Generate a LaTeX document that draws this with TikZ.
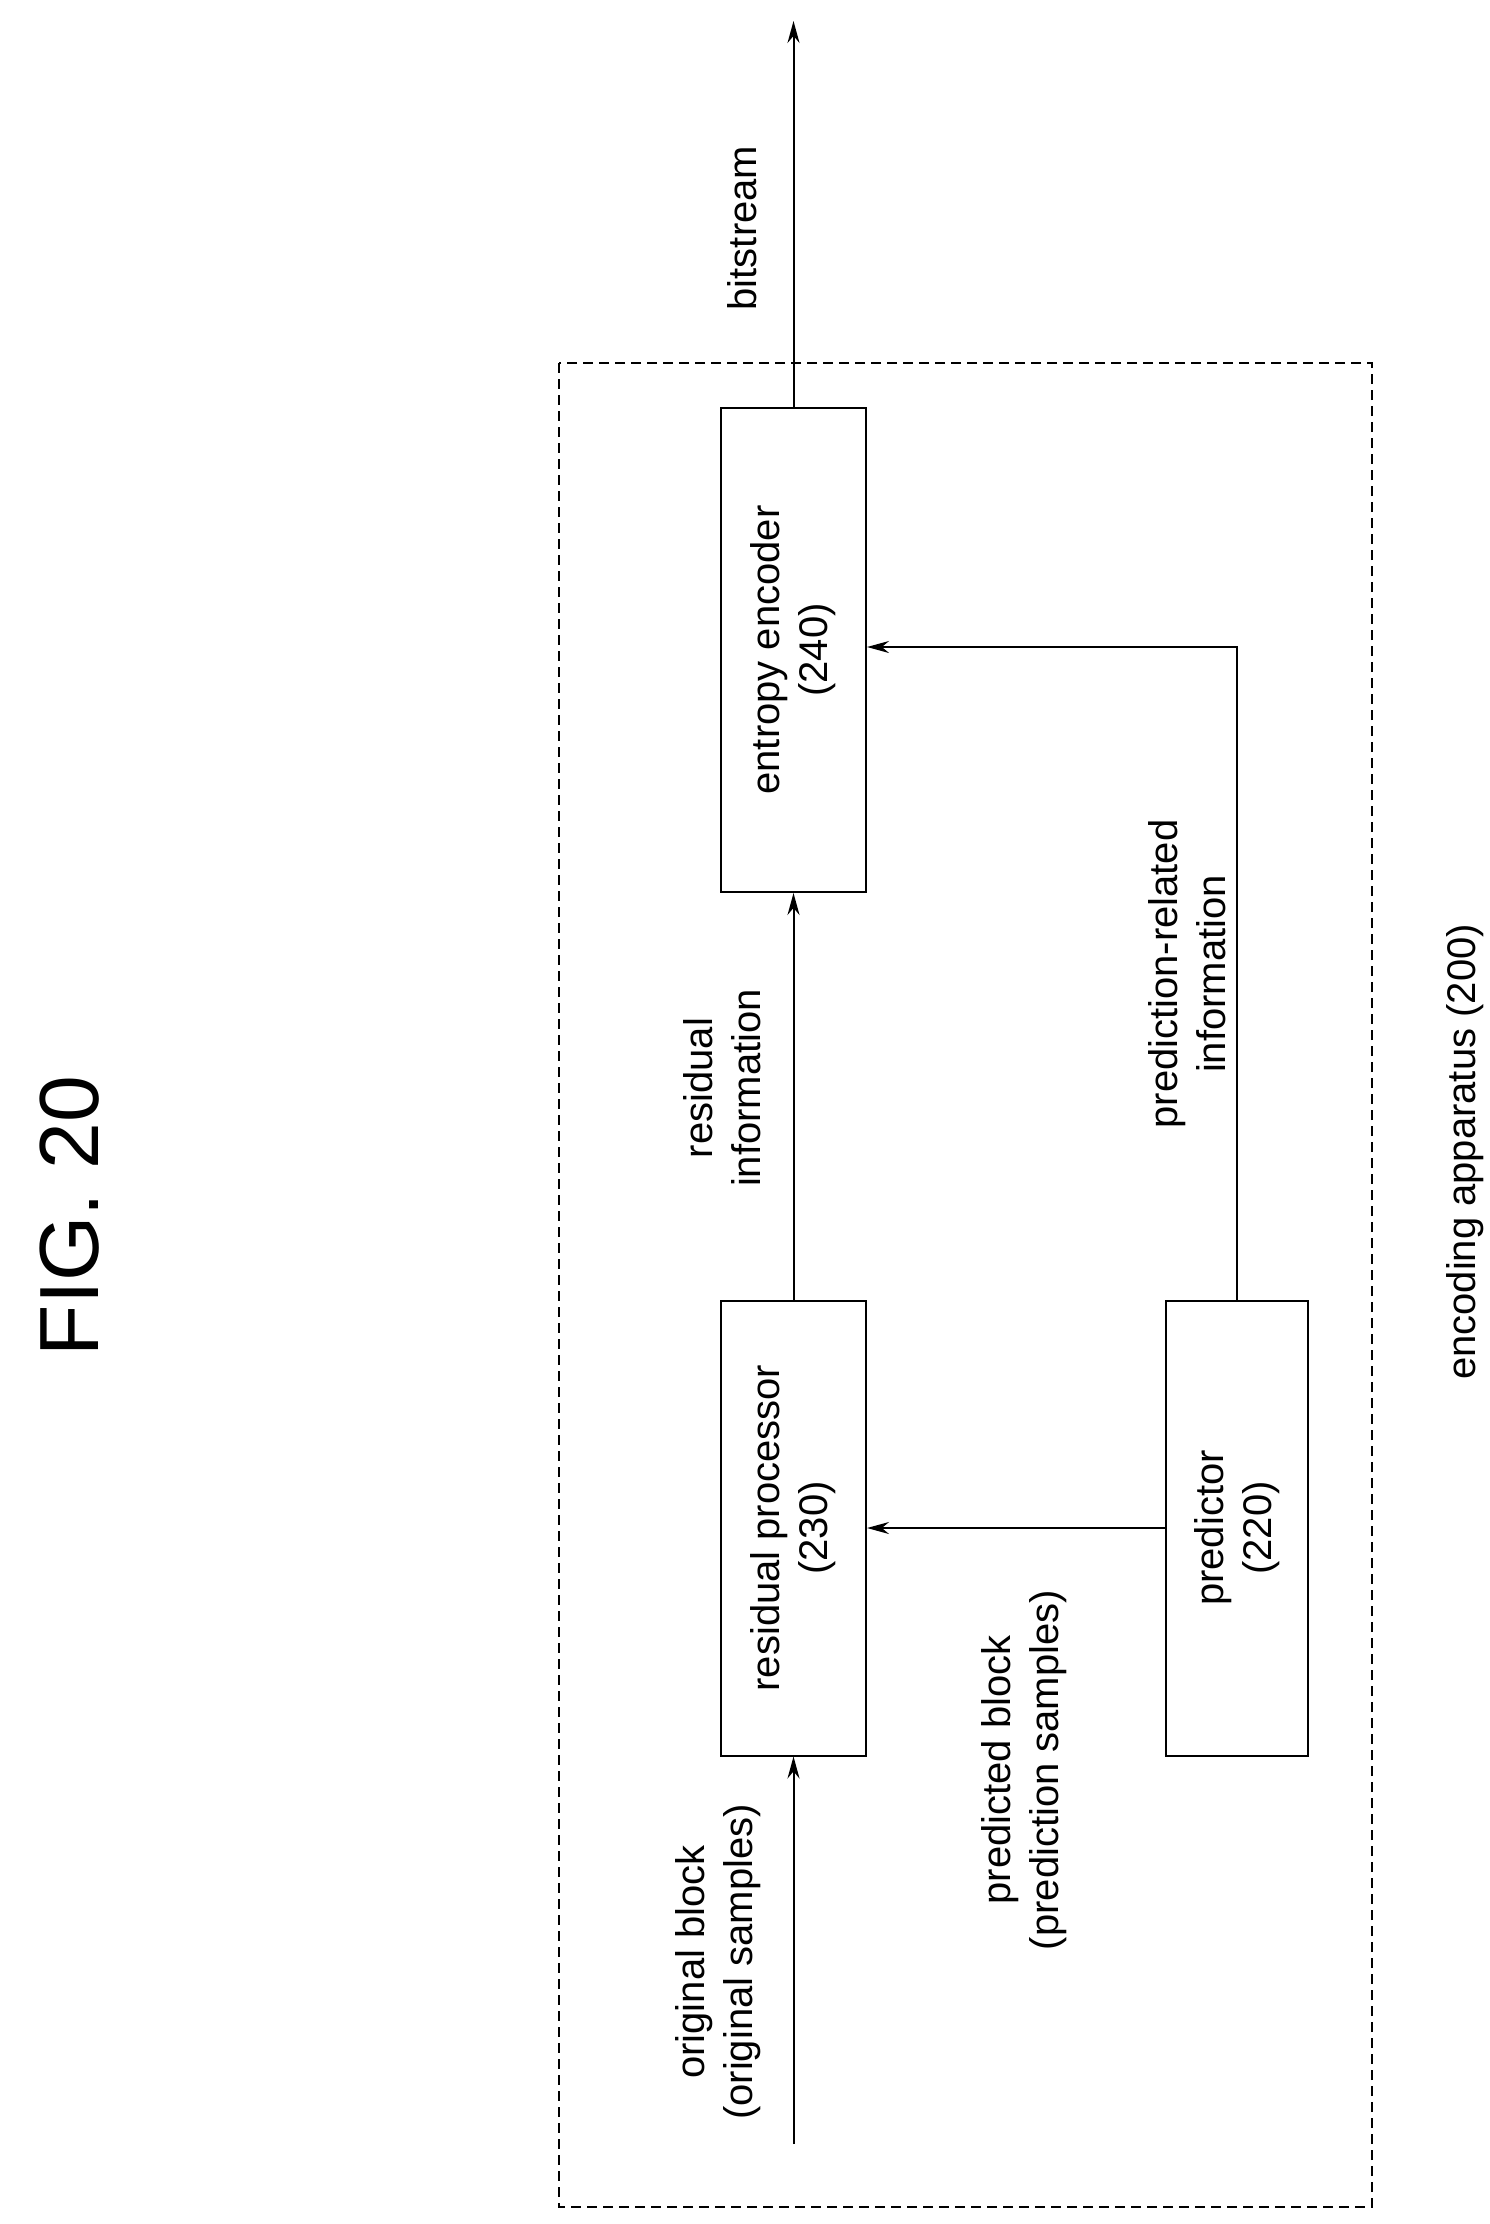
\documentclass[tikz,border=0pt]{standalone}
\usepackage{fontspec}
\setmainfont{Liberation Sans}
\usetikzlibrary{arrows.meta}
\begin{document}
\begin{tikzpicture}[x=1pt,y=-1pt,
  blk/.style={draw,line width=2pt,minimum width=455pt,minimum height=145pt,rotate=90,inner sep=0pt,align=center,font=\fontsize{40}{48}\selectfont},
  lbl/.style={rotate=90,align=center,font=\fontsize{40}{48}\selectfont},
  arr/.style={line width=2pt,-{Stealth[length=22pt,width=12pt]}}]
\useasboundingbox (0,0) rectangle (1490,2224);
\draw[dashed,line width=1.6pt,dash pattern=on 10pt off 6pt] (559,363) rectangle (1372,2207);
\node[blk,minimum width=484pt] (ent) at (793.5,650) {entropy encoder\\(240)};
\node[blk] (res) at (793.5,1528) {residual processor\\(230)};
\node[blk,minimum height=142pt] (pred) at (1237,1528) {predictor\\(220)};
\coordinate (top) at (793.5,21);
\coordinate (in) at (793.5,2144);
\coordinate (corner) at (1237,647);
\draw[arr] (ent.east) -- (top);
\draw[arr] (in) -- (res.west);
\draw[arr] (res.east) -- (ent.west);
\draw[arr] (pred.north) -- (res.south |- pred.north);
\draw[arr] (pred.east) -- (corner) -- (ent.south |- corner);
\node[lbl,font=\fontsize{84}{90}\selectfont] (fig) at (70,1216) {FIG. 20};
\node[lbl] (bs) at (742,228) {bitstream};
\node[lbl] (ri) at (722,1088) {residual\\information};
\node[lbl] (ob) at (718,1962) {original block\\(original samples)};
\node[lbl] (pb) at (1024,1770) {predicted block\\(prediction samples)};
\node[lbl] (pri) at (1187,974) {prediction-related\\information};
\node[lbl] (ea) at (1465,1152) {encoding apparatus (200)};
\end{tikzpicture}
\end{document}
